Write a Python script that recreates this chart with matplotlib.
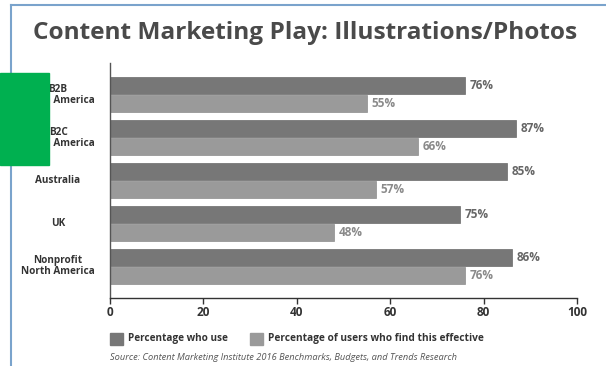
import matplotlib.pyplot as plt
from matplotlib.patches import Rectangle
from matplotlib.lines import Line2D
from matplotlib.transforms import blended_transform_factory

regions = ["B2B\nNorth America", "B2C\nNorth America", "Australia", "UK",
           "Nonprofit\nNorth America"]
pct_use = [76, 87, 85, 75, 86]
pct_effective = [55, 66, 57, 48, 76]
x_ticks = [0, 20, 40, 60, 80, 100]

c_use = "#777777"
c_eff = "#9a9a9a"

plt.rcParams['font.family'] = ['Open Sans', 'DejaVu Sans']

fig = plt.figure(figsize=(6.06, 3.66), dpi=100)
ax = fig.add_axes([110 / 606, 1 - 298 / 366, 467 / 606, 235 / 366])

h = 17 / 43.0
gap = 0.5 / 43.0
ys = list(range(len(regions)))
y_use = [y - h / 2 - gap for y in ys]
y_eff = [y + h / 2 + gap for y in ys]
ax.barh(y_use, pct_use, height=h, color=c_use, edgecolor="#6a6a6a", linewidth=0.5)
ax.barh(y_eff, pct_effective, height=h, color=c_eff, edgecolor="#8c8c8c", linewidth=0.5)

for y, v in zip(y_use, pct_use):
    ax.text(v + 1, y, f"{v}%", va="center", ha="left", fontsize=8.5,
            fontweight="bold", color="#666666")
for y, v in zip(y_eff, pct_effective):
    ax.text(v + 1, y, f"{v}%", va="center", ha="left", fontsize=8.5,
            fontweight="bold", color="#8a8a8a")

ax.set_xlim(0, 100)
ax.set_ylim(4.733, -0.733)
ax.set_xticks(x_ticks)
ax.set_xticklabels([str(t) for t in x_ticks], fontsize=8.5, fontweight="bold",
                   color="#333333")
ax.set_yticks([])
ax.tick_params(axis="x", length=4, width=1, color="#333333", pad=2)

# region labels, centred in the left margin
lab_tr = blended_transform_factory(fig.transFigure, ax.transData)
for y, name in zip(ys, regions):
    ax.text(58 / 606, y, name, transform=lab_tr, ha="center", va="center",
            multialignment="center", fontsize=7.2, fontweight="bold",
            color="#333333", linespacing=1.0)

for side in ("top", "right"):
    ax.spines[side].set_visible(False)
ax.spines["left"].set_color("#555555")
ax.spines["bottom"].set_color("#333333")
ax.spines["left"].set_linewidth(1)
ax.spines["bottom"].set_linewidth(1)

fig.text(33 / 606, 1 - 33 / 366, "Content Marketing Play: Illustrations/Photos",
         fontsize=17.6, fontweight="bold", color="#4a4a4a", va="center",
         ha="left")

# legend
fig.patches.append(Rectangle((110 / 606, 1 - 345 / 366), 13 / 606, 12 / 366,
                             transform=fig.transFigure, color=c_use))
fig.text(128 / 606, 1 - 339 / 366, "Percentage who use", fontsize=7.2,
         fontweight="bold", color="#333333", va="center")
fig.patches.append(Rectangle((250 / 606, 1 - 345 / 366), 13 / 606, 12 / 366,
                             transform=fig.transFigure, color=c_eff))
fig.text(268 / 606, 1 - 339 / 366, "Percentage of users who find this effective",
         fontsize=7.3, fontweight="bold", color="#333333", va="center")
fig.text(110 / 606, 1 - 357 / 366,
         "Source: Content Marketing Institute 2016 Benchmarks, Budgets, and Trends Research",
         fontsize=6.7, style="italic", color="#555555", va="center")

# frame lines
fig.lines.append(Line2D([10.5 / 606, 10.5 / 606], [0, 1 - 5 / 366],
                        transform=fig.transFigure, color="#7aa3cc", lw=1.5))
fig.lines.append(Line2D([10.5 / 606, 1], [1 - 5 / 366, 1 - 5 / 366],
                        transform=fig.transFigure, color="#7aa3cc", lw=1.5))

# green block over the left labels
fig.patches.append(Rectangle((0, 1 - 165 / 366), 49 / 606, 92 / 366,
                             transform=fig.transFigure, color="#00b050",
                             zorder=10))

fig.savefig("out.png", dpi=100)
